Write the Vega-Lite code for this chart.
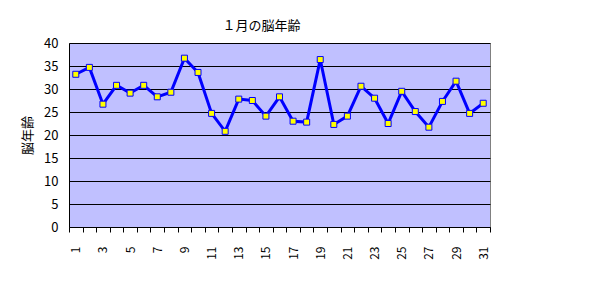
{
  "$schema": "https://vega.github.io/schema/vega-lite/v6.json",
  "width": 421,
  "height": 184,
  "autosize": "none",
  "padding": {"left": 69, "top": 43, "right": 107, "bottom": 62},
  "background": "white",
  "title": {
    "text": "１月の脳年齢",
    "font": "Noto Sans CJK JP",
    "fontSize": 13,
    "fontWeight": "normal",
    "color": "black",
    "dx": -18,
    "offset": 4
  },
  "config": {
    "view": {"fill": "#C0C0FF", "stroke": "#808080", "strokeWidth": 1},
    "axis": {
      "labelFont": "Noto Sans CJK JP",
      "titleFont": "Noto Sans CJK JP",
      "labelColor": "black",
      "titleColor": "black",
      "domainColor": "black",
      "tickColor": "black"
    }
  },
  "data": {
    "values": [
      {"day": 1, "age": 33.2}, {"day": 2, "age": 34.7}, {"day": 3, "age": 26.7},
      {"day": 4, "age": 30.8}, {"day": 5, "age": 29.1}, {"day": 6, "age": 30.8},
      {"day": 7, "age": 28.3}, {"day": 8, "age": 29.3}, {"day": 9, "age": 36.7},
      {"day": 10, "age": 33.6}, {"day": 11, "age": 24.7}, {"day": 12, "age": 20.8},
      {"day": 13, "age": 27.8}, {"day": 14, "age": 27.5}, {"day": 15, "age": 24.1},
      {"day": 16, "age": 28.3}, {"day": 17, "age": 23.0}, {"day": 18, "age": 22.8},
      {"day": 19, "age": 36.4}, {"day": 20, "age": 22.3}, {"day": 21, "age": 24.1},
      {"day": 22, "age": 30.6}, {"day": 23, "age": 28.0}, {"day": 24, "age": 22.5},
      {"day": 25, "age": 29.5}, {"day": 26, "age": 25.1}, {"day": 27, "age": 21.7},
      {"day": 28, "age": 27.3}, {"day": 29, "age": 31.7}, {"day": 30, "age": 24.7},
      {"day": 31, "age": 26.9}
    ]
  },
  "encoding": {
    "x": {
      "field": "day",
      "type": "ordinal",
      "scale": {"paddingInner": 0, "paddingOuter": 0},
      "axis": {
        "title": null,
        "labelAngle": -90,
        "labelFontSize": 12,
        "labelPadding": 14,
        "ticks": true,
        "tickSize": 5,
        "tickWidth": 1,
        "tickBand": "extent",
        "labelExpr": "datum.value % 2 == 1 ? datum.label : ''",
        "domainWidth": 1,
        "grid": false
      }
    },
    "y": {
      "field": "age",
      "type": "quantitative",
      "scale": {"domain": [0, 40], "nice": false},
      "axis": {
        "title": "脳年齢",
        "titleFontSize": 13,
        "titleFontWeight": "normal",
        "titlePadding": 9,
        "values": [0, 5, 10, 15, 20, 25, 30, 35, 40],
        "labelFontSize": 13,
        "labelPadding": 11,
        "ticks": false,
        "tickSize": 0,
        "grid": true,
        "gridColor": "black",
        "gridOpacity": 1,
        "gridWidth": 1
      }
    }
  },
  "layer": [
    {"mark": {"type": "line", "color": "#0000FF", "strokeWidth": 3}},
    {"mark": {"type": "point", "shape": "square", "filled": true, "fill": "#FFFF00", "stroke": "#0000FF", "strokeWidth": 1, "size": 36, "opacity": 1}}
  ]
}
